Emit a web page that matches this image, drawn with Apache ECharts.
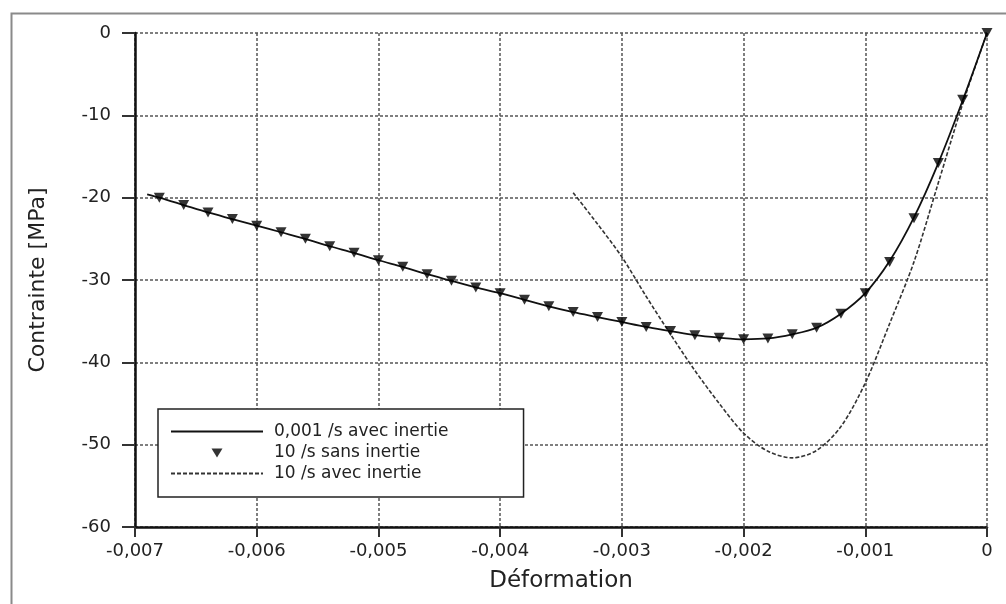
<!DOCTYPE html>
<html>
<head>
<meta charset="utf-8">
<script src="https://cdn.jsdelivr.net/npm/echarts@6/dist/echarts.min.js"></script>
<style>
html,body{margin:0;padding:0;background:#fff;}
#chart{width:1006px;height:604px;}
</style>
</head>
<body>
<div id="chart"></div>
<script>
// Strain values (x) for the marker series / solid curve
const strainPoints = [-0.0068,-0.0066,-0.0064,-0.0062,-0.0060,-0.0058,-0.0056,-0.0054,-0.0052,-0.0050,
  -0.0048,-0.0046,-0.0044,-0.0042,-0.0040,-0.0038,-0.0036,-0.0034,-0.0032,-0.0030,
  -0.0028,-0.0026,-0.0024,-0.0022,-0.0020,-0.0018,-0.0016,-0.0014,-0.0012,-0.0010,
  -0.0008,-0.0006,-0.0004,-0.0002,0];
// 0,001 /s avec inertie (solid)
const slowStrain = [-0.0069].concat(strainPoints);
const slowStress = [-19.6,-20.0,-20.9,-21.8,-22.6,-23.4,-24.2,-25.0,-25.9,-26.7,-27.6,
  -28.4,-29.3,-30.1,-30.9,-31.6,-32.4,-33.2,-33.9,-34.5,-35.1,
  -35.7,-36.2,-36.7,-37.0,-37.2,-37.1,-36.6,-35.8,-34.1,-31.6,
  -27.7,-22.4,-15.8,-8.2,0];
// 10 /s sans inertie (markers)
const fastNoInertiaStress = [-20.0,-20.9,-21.8,-22.6,-23.4,-24.2,-25.0,-25.9,-26.7,-27.6,
  -28.4,-29.3,-30.1,-30.9,-31.6,-32.4,-33.2,-33.9,-34.5,-35.1,
  -35.7,-36.2,-36.7,-37.0,-37.2,-37.1,-36.6,-35.8,-34.1,-31.6,
  -27.8,-22.5,-15.8,-8.1,0];
// 10 /s avec inertie (dashed)
const fastInertiaStrain = [-0.0034,-0.0032,-0.0030,-0.0028,-0.0026,-0.0024,-0.0022,-0.0020,-0.0018,-0.0016,
  -0.0014,-0.0012,-0.0010,-0.0008,-0.0006,-0.0004,-0.0002,0];
const fastInertiaStress = [-19.4,-23.2,-27.2,-32.0,-36.6,-41.0,-45.0,-48.6,-50.8,-51.6,
  -50.7,-47.8,-42.5,-35.3,-27.8,-18.2,-8.6,0];

const seriesNames = ['0,001 /s avec inertie','10 /s sans inertie','10 /s avec inertie'];
const xTicks = {min:-0.007, max:0, interval:0.001};
const yTicks = {min:-60, max:0, interval:10};

const FONT = 'DejaVu Sans';
const zip = (a,b) => a.map((v,i)=>[v,b[i]]);

const chart = echarts.init(document.getElementById('chart'), null, {renderer:'canvas'});
chart.setOption({
  animation:false,
  backgroundColor:'#fff',
  textStyle:{fontFamily:FONT},
  graphic:[{
    type:'rect', left:9, top:11, z:-10, silent:true,
    shape:{x:0,y:0,width:1010,height:610},
    style:{fill:'none', stroke:'#8a8a8a', lineWidth:2}
  }],
  grid:{left:135, right:19, top:33, bottom:77, containLabel:false},
  xAxis:{
    type:'value', min:xTicks.min, max:xTicks.max, interval:xTicks.interval,
    name:'Déformation', nameLocation:'middle', nameGap:43,
    nameTextStyle:{fontFamily:FONT, fontSize:23, color:'#222'},
    axisLine:{show:true, onZero:false, lineStyle:{color:'#111', width:2.5}},
    axisTick:{show:true, length:10, lineStyle:{color:'#333', width:2}},
    axisLabel:{fontFamily:FONT, fontSize:18, color:'#222', margin:15,
      formatter:v => Math.abs(v) < 1e-9 ? '0' : v.toFixed(3).replace('.', ',')},
    splitLine:{show:true, lineStyle:{color:'#555', width:1.5, type:[3,2]}}
  },
  yAxis:{
    type:'value', min:yTicks.min, max:yTicks.max, interval:yTicks.interval,
    name:'Contrainte [MPa]', nameLocation:'middle', nameGap:86,
    nameTextStyle:{fontFamily:FONT, fontSize:22, color:'#222'},
    axisLine:{show:true, onZero:false, lineStyle:{color:'#111', width:2.5}},
    axisTick:{show:true, length:13, lineStyle:{color:'#333', width:2}},
    axisLabel:{fontFamily:FONT, fontSize:18, color:'#222', margin:24},
    splitLine:{show:true, lineStyle:{color:'#555', width:1.5, type:[3,2]}}
  },
  legend:{
    orient:'vertical', left:158, top:409,
    data:[
      {name:seriesNames[0], itemStyle:{opacity:0}},
      {name:seriesNames[1], icon:'path://M0,0 M92,14 M40.5,3 L51.5,3 L46,12 Z'},
      {name:seriesNames[2], itemStyle:{opacity:0}}
    ],
    padding:[14,75,15,12], itemGap:4, itemWidth:92, itemHeight:14,
    borderColor:'#222', borderWidth:1.5, backgroundColor:'#fff',
    textStyle:{fontFamily:FONT, fontSize:17, color:'#222', padding:[0,0,0,6]},
    selectedMode:false
  },
  series:[
    {
      name:seriesNames[0], type:'line', data:zip(slowStrain, slowStress),
      smooth:0.3, symbol:'none', z:3,
      lineStyle:{color:'#111', width:1.8, type:'solid'},
      itemStyle:{color:'#111'}
    },
    {
      name:seriesNames[1], type:'scatter', data:zip(strainPoints, fastNoInertiaStress),
      symbol:'triangle', symbolRotate:180, symbolSize:[11,10], z:4,
      itemStyle:{color:'#000'}
    },
    {
      name:seriesNames[2], type:'line', data:zip(fastInertiaStrain, fastInertiaStress),
      smooth:0.3, symbol:'none', z:2,
      lineStyle:{color:'#333', width:1.6, type:[4,2]},
      itemStyle:{color:'#333'}
    }
  ]
});
</script>
</body>
</html>
